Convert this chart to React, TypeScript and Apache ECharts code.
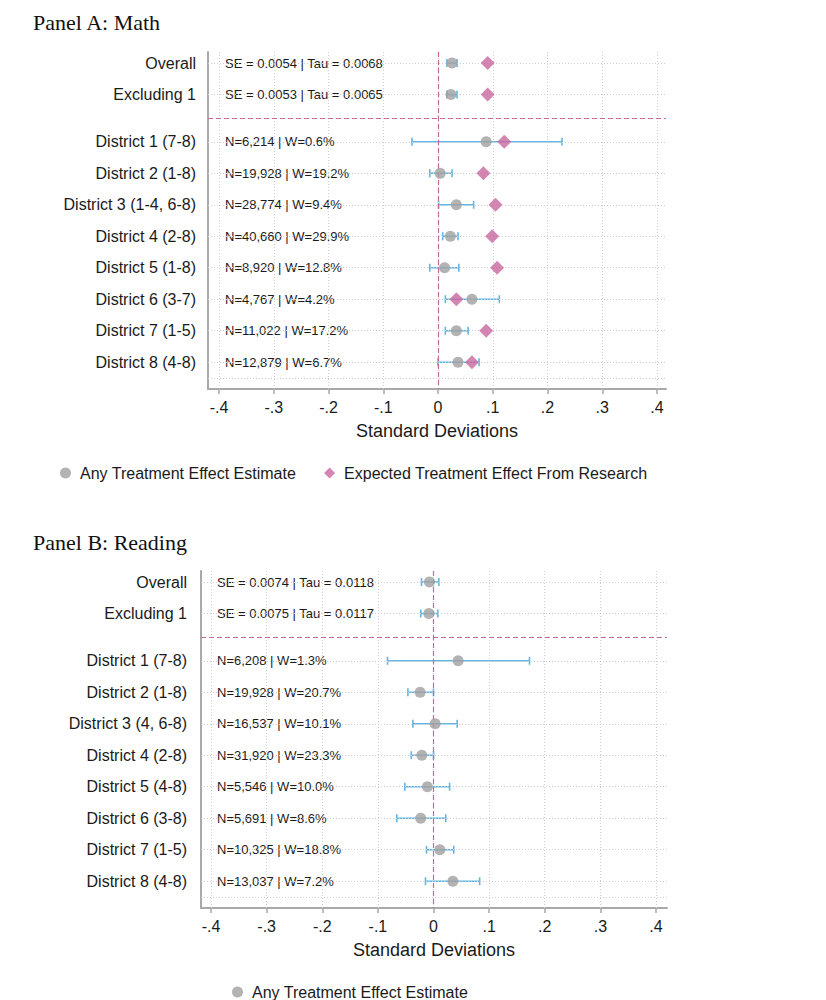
import React, { useEffect, useRef } from "react";
import * as echarts from "echarts";

const FONT = "'Liberation Sans', Arial, Helvetica, sans-serif";
const SERIF = "'Liberation Serif', 'Times New Roman', serif";

const ESTIMATE_NAME = "Any Treatment Effect Estimate";
const EXPECTED_NAME = "Expected Treatment Effect From Research";

// Shared layout of rows (value positions on the vertical axis)
const rowPositions = [0, 1, 2.5, 3.5, 4.5, 5.5, 6.5, 7.5, 8.5, 9.5];
const gridRows = [0, 1, 2.5, 3.5, 4.5, 5.5, 6.5, 7.5, 8.5, 9.5, 10];
const separatorRow = 1.75;
const xTicks = [-0.4, -0.3, -0.2, -0.1, 0, 0.1, 0.2, 0.3, 0.4];

// Panel A: Math
const mathRows = [
  "Overall",
  "Excluding 1",
  "District 1 (7-8)",
  "District 2 (1-8)",
  "District 3 (1-4, 6-8)",
  "District 4 (2-8)",
  "District 5 (1-8)",
  "District 6 (3-7)",
  "District 7 (1-5)",
  "District 8 (4-8)",
];
const mathNotes = [
  "SE = 0.0054 | Tau = 0.0068",
  "SE = 0.0053 | Tau = 0.0065",
  "N=6,214 | W=0.6%",
  "N=19,928 | W=19.2%",
  "N=28,774 | W=9.4%",
  "N=40,660 | W=29.9%",
  "N=8,920 | W=12.8%",
  "N=4,767 | W=4.2%",
  "N=11,022 | W=17.2%",
  "N=12,879 | W=6.7%",
];
const mathEstimate = [0.0256, 0.0237, 0.088, 0.004, 0.0335, 0.0225, 0.012, 0.062, 0.0335, 0.0365];
const mathLow = [0.0164, 0.0164, -0.0475, -0.015, 0.001, 0.0085, -0.015, 0.0134, 0.0134, 0.0];
const mathHigh = [0.0347, 0.0347, 0.2265, 0.0256, 0.065, 0.0365, 0.038, 0.112, 0.055, 0.075];
const mathExpected = [0.0907, 0.0907, 0.121, 0.083, 0.105, 0.099, 0.108, 0.0335, 0.088, 0.062];

// Panel B: Reading
const readingRows = [
  "Overall",
  "Excluding 1",
  "District 1 (7-8)",
  "District 2 (1-8)",
  "District 3 (4, 6-8)",
  "District 4 (2-8)",
  "District 5 (4-8)",
  "District 6 (3-8)",
  "District 7 (1-5)",
  "District 8 (4-8)",
];
const readingNotes = [
  "SE = 0.0074 | Tau = 0.0118",
  "SE = 0.0075 | Tau = 0.0117",
  "N=6,208 | W=1.3%",
  "N=19,928 | W=20.7%",
  "N=16,537 | W=10.1%",
  "N=31,920 | W=23.3%",
  "N=5,546 | W=10.0%",
  "N=5,691 | W=8.6%",
  "N=10,325 | W=18.8%",
  "N=13,037 | W=7.2%",
];
const readingEstimate = [-0.0072, -0.0084, 0.0443, -0.024, 0.003, -0.021, -0.011, -0.023, 0.0114, 0.0348];
const readingLow = [-0.0216, -0.0228, -0.0827, -0.046, -0.037, -0.04, -0.0515, -0.066, -0.0126, -0.0144];
const readingHigh = [0.0096, 0.0078, 0.1726, 0.0, 0.0425, 0.0, 0.029, 0.022, 0.0365, 0.083];

const COLORS = {
  text: "#1a1a1a",
  axis: "#a9a9a9",
  grid: "#cfcfcf",
  estimate: "#a0a0a0",
  bar: "#62b5e5",
  expected: "#c9689f",
  ref: "#c56a9d",
};

function fmtTick(v: number): string {
  if (Math.abs(v) < 1e-9) return "0";
  const d = Math.round(Math.abs(v) * 10);
  return (v < 0 ? "-" : "") + "." + d;
}

function rowLabel(rows: string[], v: number): string {
  const i = rowPositions.findIndex((r) => Math.abs(r - v) < 1e-6);
  return i >= 0 ? rows[i] : "";
}

type PanelCfg = {
  left: number;
  top: number;
  width: number;
  height: number;
  xMin: number;
  xMax: number;
  labelMargin: number;
  noteMargin: number;
  rows: string[];
  notes: string[];
  estimate: number[];
  low: number[];
  high: number[];
  expected?: number[];
};

function buildPanel(i: number, p: PanelCfg) {
  const grid = { left: p.left, top: p.top, width: p.width, height: p.height };
  const xAxis = {
    gridIndex: i,
    type: "value",
    min: p.xMin,
    max: p.xMax,
    name: "Standard Deviations",
    nameLocation: "middle",
    nameGap: 33,
    nameTextStyle: { fontSize: 18, color: COLORS.text, fontFamily: FONT },
    axisLine: { show: true, onZero: false, lineStyle: { color: COLORS.axis, width: 2 } },
    axisTick: { show: true, customValues: xTicks, length: 5, lineStyle: { color: COLORS.axis, width: 1.5 } },
    axisLabel: {
      customValues: xTicks,
      formatter: fmtTick,
      fontSize: 16,
      color: COLORS.text,
      margin: 10,
      fontFamily: FONT,
    },
    splitLine: { show: false },
  };
  const yAxis = {
    gridIndex: i,
    type: "value",
    inverse: true,
    min: -0.35,
    max: 10.35,
    axisLine: { show: true, onZero: false, lineStyle: { color: COLORS.axis, width: 2 } },
    axisTick: { show: false },
    axisLabel: {
      customValues: rowPositions,
      formatter: (v: number) => rowLabel(p.rows, v),
      fontSize: 16,
      color: COLORS.text,
      margin: p.labelMargin,
      fontFamily: FONT,
    },
    splitLine: { show: false },
  };

  const series: any[] = [];
  // dotted grid
  series.push({
    type: "scatter",
    name: "_grid" + i,
    xAxisIndex: i,
    yAxisIndex: i,
    data: [],
    silent: true,
    z: 1,
    markLine: {
      silent: true,
      symbol: ["none", "none"],
      label: { show: false },
      lineStyle: { type: [1, 2], color: COLORS.grid, width: 1 },
      emphasis: { disabled: true },
      data: [
        ...xTicks.map((v) => ({ xAxis: v })),
        ...gridRows.map((v) => ({ yAxis: v })),
      ],
    },
  });
  // pink dashed reference lines
  series.push({
    type: "scatter",
    name: "_ref" + i,
    xAxisIndex: i,
    yAxisIndex: i,
    data: [],
    silent: true,
    z: 2,
    markLine: {
      silent: true,
      symbol: ["none", "none"],
      label: { show: false },
      lineStyle: { type: [5, 3], color: COLORS.ref, width: 1.2 },
      emphasis: { disabled: true },
      data: [{ xAxis: 0 }, { yAxis: separatorRow }],
    },
  });
  // notes
  series.push({
    type: "custom",
    name: "_notes" + i,
    xAxisIndex: i,
    yAxisIndex: i,
    silent: true,
    z: 3,
    data: rowPositions.map((r) => [0, r]),
    renderItem: (params: any, api: any) => {
      const y = api.coord([0, api.value(1)])[1];
      const cs = params.coordSys;
      return {
        type: "text",
        x: cs.x + p.noteMargin,
        y,
        style: {
          text: p.notes[params.dataIndex],
          fill: COLORS.text,
          fontSize: 13,
          fontFamily: FONT,
          align: "left",
          verticalAlign: "middle",
        },
      };
    },
  });
  // error bars
  series.push({
    type: "custom",
    name: "_ci" + i,
    xAxisIndex: i,
    yAxisIndex: i,
    silent: true,
    z: 4,
    encode: { x: [0, 1], y: 2 },
    data: rowPositions.map((r, k) => [p.low[k], p.high[k], r]),
    renderItem: (params: any, api: any) => {
      const a = api.coord([api.value(0), api.value(2)]);
      const b = api.coord([api.value(1), api.value(2)]);
      const h = 4;
      const st = { stroke: COLORS.bar, lineWidth: 1.6 };
      return {
        type: "group",
        children: [
          { type: "line", shape: { x1: a[0], y1: a[1], x2: b[0], y2: b[1] }, style: st },
          { type: "line", shape: { x1: a[0], y1: a[1] - h, x2: a[0], y2: a[1] + h }, style: st },
          { type: "line", shape: { x1: b[0], y1: b[1] - h, x2: b[0], y2: b[1] + h }, style: st },
        ],
      };
    },
  });
  series.push({
    type: "scatter",
    name: ESTIMATE_NAME,
    xAxisIndex: i,
    yAxisIndex: i,
    symbol: "circle",
    symbolSize: 11,
    itemStyle: { color: COLORS.estimate },
    z: 5,
    data: rowPositions.map((r, k) => [p.estimate[k], r]),
  });
  if (p.expected) {
    const ex = p.expected;
    series.push({
      type: "scatter",
      name: EXPECTED_NAME,
      xAxisIndex: i,
      yAxisIndex: i,
      symbol: "diamond",
      symbolSize: 14,
      itemStyle: { color: COLORS.expected },
      z: 6,
      data: rowPositions.map((r, k) => [ex[k], r]),
    });
  }
  return { grid, xAxis, yAxis, series };
}

export default function App() {
  const ref = useRef<HTMLDivElement>(null);
  useEffect(() => {
    if (!ref.current) return;
    const chart = echarts.init(ref.current, undefined, { renderer: "svg" });
    const A = buildPanel(0, {
      left: 208,
      top: 52,
      width: 458,
      height: 337,
      xMin: -0.4201,
      xMax: 0.4164,
      labelMargin: 12,
      noteMargin: 17,
      rows: mathRows,
      notes: mathNotes,
      estimate: mathEstimate,
      low: mathLow,
      high: mathHigh,
      expected: mathExpected,
    });
    const B = buildPanel(1, {
      left: 201,
      top: 571,
      width: 466,
      height: 337,
      xMin: -0.418,
      xMax: 0.4198,
      labelMargin: 14,
      noteMargin: 16,
      rows: readingRows,
      notes: readingNotes,
      estimate: readingEstimate,
      low: readingLow,
      high: readingHigh,
    });
    const legendText = { fontSize: 16, color: COLORS.text, fontFamily: FONT, padding: [0, 0, 0, 4] };
    chart.setOption({
      animation: false,
      backgroundColor: "#ffffff",
      title: [
        {
          text: "Panel A: Math",
          left: 33,
          top: 11,
          padding: 0,
          textStyle: { fontFamily: SERIF, fontSize: 22, fontWeight: "normal", color: "#111" },
        },
        {
          text: "Panel B: Reading",
          left: 33,
          top: 531,
          padding: 0,
          textStyle: { fontFamily: SERIF, fontSize: 22, fontWeight: "normal", color: "#111" },
        },
      ],
      legend: [
        {
          left: 60,
          top: 465,
          padding: 0,
          itemWidth: 11,
          itemHeight: 11,
          itemGap: 28,
          selectedMode: false,
          textStyle: legendText,
          data: [ESTIMATE_NAME, EXPECTED_NAME],
        },
        {
          left: 232,
          top: 984,
          padding: 0,
          itemWidth: 11,
          itemHeight: 11,
          selectedMode: false,
          textStyle: legendText,
          data: [ESTIMATE_NAME],
        },
      ],
      grid: [A.grid, B.grid],
      xAxis: [A.xAxis, B.xAxis],
      yAxis: [A.yAxis, B.yAxis],
      series: [...A.series, ...B.series],
    });
    return () => chart.dispose();
  }, []);
  return (
    <div
      ref={ref}
      style={{ position: "absolute", left: 0, top: 0, width: 826, height: 1000 }}
    />
  );
}
